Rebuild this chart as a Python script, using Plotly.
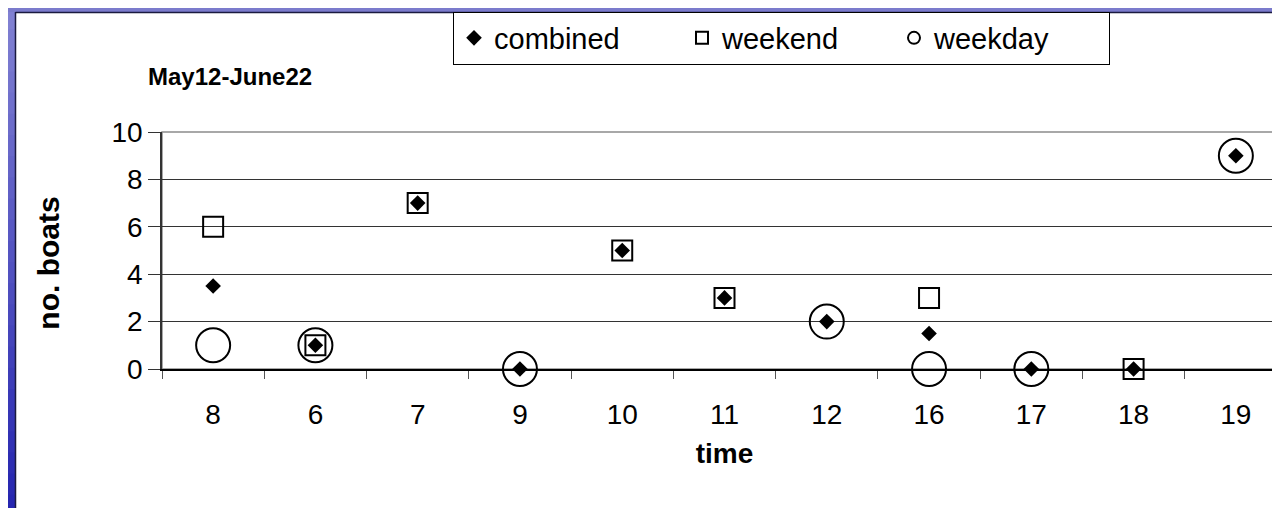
import plotly.graph_objects as go

# ---- data ----
times = ["8", "6", "7", "9", "10", "11", "12", "16", "17", "18", "19"]
combined = [3.5, 1, 7, 0, 5, 3, 2, 1.5, 0, 0, 9]
weekend = [6, 1, 7, None, 5, 3, None, 3, None, 0, None]
weekday = [1, 1, None, 0, None, None, 2, 0, 0, None, 9]
y_ticks = [0, 2, 4, 6, 8, 10]

W, H = 1280, 508
L, R, T, B = 154, 1, 124, 147
PW, PH = W - L - R, H - T - B


def px(x):
    return (x - L) / PW


def py(y):
    return (H - B - y) / PH


FONT = "Liberation Sans, Arial, sans-serif"

fig = go.Figure()

fig.add_trace(go.Scatter(
    x=times, y=weekday, mode="markers", name="weekday", legendrank=3, cliponaxis=False,
    legendwidth=170,
    marker=dict(symbol="circle-open", size=34, color="black", line=dict(width=2, color="black")),
))
fig.add_trace(go.Scatter(
    x=times, y=weekend, mode="markers", name="weekend", legendrank=2, cliponaxis=False,
    legendwidth=167,
    marker=dict(symbol="square-open", size=20, color="black", line=dict(width=2, color="black")),
))
fig.add_trace(go.Scatter(
    x=times, y=combined, mode="markers", name="combined", legendrank=1, cliponaxis=False,
    legendwidth=183,
    marker=dict(symbol="diamond", size=12, color="black"),
))

shapes = []
# plot-area frame (gray top/right)
shapes.append(dict(type="rect", xref="paper", yref="paper", x0=0, x1=1, y0=0, y1=1,
                   line=dict(color="#8c8c8c", width=1.5), layer="below"))
# left blue gradient strip
n = 24
for i in range(n):
    f = i / (n - 1)
    r = int(0x80 + (0x26 - 0x80) * f)
    g = int(0x80 + (0x26 - 0x80) * f)
    b = int(0xd2 + (0xb0 - 0xd2) * f)
    y0 = i * H / n
    y1 = (i + 1) * H / n + 1
    shapes.append(dict(type="rect", xref="paper", yref="paper",
                       x0=px(0), x1=px(7), y0=py(y1), y1=py(y0),
                       fillcolor=f"rgb({r},{g},{b})", line=dict(width=0), layer="below"))
# top strip
shapes.append(dict(type="rect", xref="paper", yref="paper",
                   x0=px(0), x1=px(W), y0=py(4), y1=py(0),
                   fillcolor="#7b7bcc", line=dict(width=0), layer="below"))
# dark edges of white panel
shapes.append(dict(type="line", xref="paper", yref="paper",
                   x0=px(7.5), x1=px(7.5), y0=py(H), y1=py(4),
                   line=dict(color="#1a1a40", width=1.5)))
shapes.append(dict(type="line", xref="paper", yref="paper",
                   x0=px(7.5), x1=px(W), y0=py(4.5), y1=py(4.5),
                   line=dict(color="#1a1a40", width=1.5)))

fig.update_layout(
    width=W, height=H,
    margin=dict(l=L, r=R, t=T, b=B, autoexpand=False),
    paper_bgcolor="white", plot_bgcolor="white",
    font=dict(family=FONT, color="black", size=28),
    shapes=shapes,
    showlegend=True,
    legend=dict(
        orientation="h", x=px(445), y=py(3.5), xanchor="left", yanchor="top",
        bordercolor="black", borderwidth=1, bgcolor="white",
        font=dict(family=FONT, size=29), itemsizing="constant",
        itemwidth=30, tracegroupgap=0,
    ),
    annotations=[dict(
        text="<b>May12-June22</b>", xref="paper", yref="paper",
        x=px(222), y=py(68), xanchor="center", yanchor="middle",
        showarrow=False, font=dict(family=FONT, size=24),
    )],
    xaxis=dict(
        type="category", categoryorder="array", categoryarray=times,
        range=[-0.5, len(times) - 0.5],
        showline=True, linecolor="black", linewidth=1.5,
        ticks="outside", tickson="boundaries", ticklen=8, tickcolor="#555", tickwidth=1,
        showgrid=False, zeroline=False,
        tickfont=dict(size=28), ticklabelstandoff=20,
        title=dict(text="<b>time</b>", font=dict(size=28), standoff=14),
    ),
    yaxis=dict(
        range=[0, 10], tickvals=y_ticks, ticktext=[str(v) for v in y_ticks],
        showline=True, linecolor="#333", linewidth=1.5,
        ticks="outside", ticklen=12, tickcolor="#333", tickwidth=1,
        showgrid=True, gridcolor="#333", gridwidth=1,
        zeroline=False, tickfont=dict(size=28),
        title=dict(text="<b>no. boats\u00a0\u00a0\u00a0</b>", font=dict(size=30), standoff=43),
    ),
)

fig.write_html("out.html")
